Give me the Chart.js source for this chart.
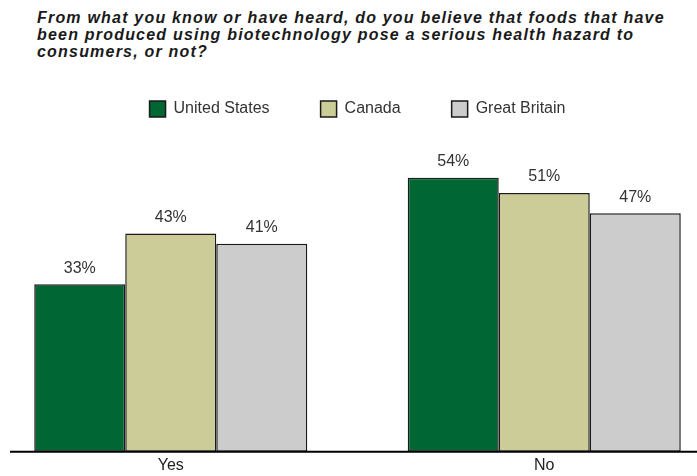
<!DOCTYPE html>
<html lang="en">
<head>
    <meta charset="UTF-8">
    <title>Biotech foods health hazard</title>
    <script src="https://cdn.jsdelivr.net/npm/chart.js"></script>
    <style>
        html, body {
            margin: 0;
            padding: 0;
            width: 697px;
            height: 476px;
            overflow: hidden;
            background: #ffffff;
            font-family: 'Liberation Sans', Arial, sans-serif;
        }
        .question {
            position: absolute;
            left: 37px;
            top: 9px;
            white-space: nowrap;
            font-size: 16px;
            line-height: 17px;
            letter-spacing: 1.2px;
            font-weight: bold;
            font-style: italic;
            color: #1a1a1a;
        }
        /* canvas is a bit wider than the page so the two groups sit where they should */
        .chart-wrap {
            position: absolute;
            left: -16px;
            top: 0;
            width: 747px;
            height: 476px;
        }
    </style>
</head>
<body>
    <div class="question">From what you know or have heard, do you believe that foods that have<br>been produced using biotechnology pose a serious health hazard to<br>consumers, or not?</div>
    <div class="chart-wrap">
        <canvas id="hazardChart"></canvas>
    </div>

    <script>
        // Survey answers, percent
        const answers = ['Yes', 'No'];
        const unitedStates = [33, 54];
        const canada = [43, 51];
        const greatBritain = [41, 47];
        const countryNames = ['United States', 'Canada', 'Great Britain'];

        const FONT = "'Liberation Sans', Arial, sans-serif";

        // percent labels above each bar
        const valueLabels = {
            id: 'valueLabels',
            afterDatasetsDraw(chart) {
                const ctx = chart.ctx;
                ctx.save();
                ctx.font = '16px ' + FONT;
                ctx.fillStyle = '#333333';
                ctx.textAlign = 'center';
                ctx.textBaseline = 'middle';
                chart.data.datasets.forEach((ds, i) => {
                    chart.getDatasetMeta(i).data.forEach((bar, j) => {
                        ctx.fillText(ds.data[j] + '%', bar.x, bar.y - 16);
                    });
                });
                ctx.restore();
            }
        };

        // heavy baseline under the bars
        const baseline = {
            id: 'baseline',
            afterDatasetsDraw(chart) {
                const ctx = chart.ctx;
                const y = chart.scales.y.getPixelForValue(0);
                ctx.save();
                ctx.strokeStyle = '#000000';
                ctx.lineWidth = 2;
                ctx.beginPath();
                ctx.moveTo(26, y);
                ctx.lineTo(chart.width, y);
                ctx.stroke();
                ctx.restore();
            }
        };

        const fills = ['#006633', '#CCCC99', '#CCCCCC'];
        const series = [unitedStates, canada, greatBritain];

        new Chart(document.getElementById('hazardChart'), {
            type: 'bar',
            data: {
                labels: answers,
                datasets: series.map((values, i) => ({
                    label: countryNames[i],
                    data: values,
                    backgroundColor: fills[i],
                    borderColor: '#1a1a1a',
                    borderWidth: 1.5,
                    borderSkipped: false,
                    categoryPercentage: 0.731,
                    barPercentage: 1.0
                }))
            },
            options: {
                responsive: true,
                maintainAspectRatio: false,
                animation: false,
                layout: { padding: { top: 50, left: 0, right: 0, bottom: -3 } },
                plugins: {
                    legend: {
                        position: 'top',
                        labels: {
                            boxWidth: 16,
                            boxHeight: 16,
                            padding: 51,
                            color: '#333333',
                            font: { family: FONT, size: 16 }
                        }
                    },
                    tooltip: { enabled: false }
                },
                scales: {
                    x: {
                        grid: { display: false, drawTicks: false },
                        border: { display: false },
                        ticks: {
                            color: '#222222',
                            padding: 4,
                            font: { family: FONT, size: 16 }
                        }
                    },
                    y: {
                        display: false,
                        min: 0,
                        max: 64
                    }
                }
            },
            plugins: [valueLabels, baseline]
        });
    </script>
</body>
</html>
